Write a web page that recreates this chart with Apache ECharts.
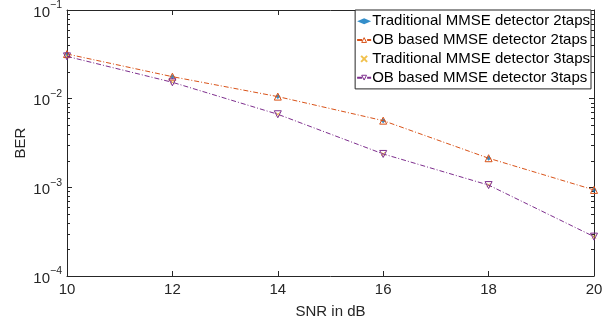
<!DOCTYPE html>
<html>
<head>
<meta charset="utf-8">
<script src="https://cdn.jsdelivr.net/npm/echarts@6/dist/echarts.min.js"></script>
<style>
html,body{margin:0;padding:0;background:#fff;}
#c{width:615px;height:326px;}
</style>
</head>
<body>
<div id="c"></div>
<script>
const snr = [10, 12, 14, 16, 18, 20];
const trad2 = [0.0319, 0.0177, 0.01055, 0.00565, 0.00213, 0.000935];
const ob2   = [0.0319, 0.0177, 0.01055, 0.00565, 0.00213, 0.000935];
const trad3 = [0.0300, 0.0153, 0.00667, 0.00238, 0.00106, 0.000278];
const ob3   = [0.0300, 0.0153, 0.00667, 0.00238, 0.00106, 0.000278];
const names = ['Traditional MMSE detector 2taps','OB based MMSE detector 2taps','Traditional MMSE detector 3taps','OB based MMSE detector 3taps'];
const xTicks = [10, 12, 14, 16, 18, 20];
const yDecades = [1e-4, 1e-3, 1e-2, 1e-1];

const minorVals = [];
for (let i = 0; i < yDecades.length - 1; i++) {
  for (let m = 2; m <= 9; m++) minorVals.push(yDecades[i] * m);
}
const pair = arr => snr.map((x, i) => [x, arr[i]]);
const FONT = 'Liberation Sans, Arial, Helvetica, sans-serif';
const AX = '#262626';
const C_BLUE = '#0072BD', C_ORANGE = '#D95319', C_YELLOW = '#EDB120', C_PURPLE = '#7E2F8E';

const chart = echarts.init(document.getElementById('c'), null, {renderer: 'canvas'});
const dashDot = [5, 2, 1, 2];

chart.setOption({
  animation: false,
  backgroundColor: '#fff',
  textStyle: {fontFamily: FONT},
  grid: {left: 67, right: 21, top: 10, bottom: 50, containLabel: false},
  legend: {
    data: [
      {name: names[0]},
      {name: names[1], itemStyle: {color: '#fff', borderColor: C_ORANGE, borderWidth: 1}},
      {name: names[2]},
      {name: names[3], itemStyle: {color: '#fff', borderColor: C_PURPLE, borderWidth: 1}}
    ],
    orient: 'vertical',
    right: 24, top: 10,
    backgroundColor: '#fff',
    borderColor: AX, borderWidth: 1, borderRadius: 0,
    padding: [3, 1, 3, 1],
    itemWidth: 14, itemHeight: 6, itemGap: 2.3,
    textStyle: {fontFamily: FONT, fontSize: 15, lineHeight: 16.5, color: '#000', padding: [0, 0, 0, -4]}
  },
  xAxis: [{
    type: 'value', min: 10, max: 20, interval: 2,
    name: 'SNR in dB', nameLocation: 'middle', nameGap: 28,
    nameTextStyle: {fontFamily: FONT, fontSize: 15, color: AX},
    axisLine: {show: true, lineStyle: {color: AX, width: 1}},
    axisTick: {show: true, inside: true, length: 5, lineStyle: {color: AX}},
    axisLabel: {fontFamily: FONT, fontSize: 15, color: AX, margin: 6},
    splitLine: {show: false}
  }, {
    type: 'value', min: 10, max: 20, interval: 2, position: 'top',
    axisLine: {show: true, lineStyle: {color: AX, width: 1}},
    axisTick: {show: true, inside: true, length: 5, lineStyle: {color: AX}},
    axisLabel: {show: false}, splitLine: {show: false}
  }],
  yAxis: [{
    type: 'log', logBase: 10, min: 1e-4, max: 1e-1, interval: 1,
    name: 'BER', nameLocation: 'middle', nameGap: 39, nameRotate: 90, nameMoveOverlap: false,
    nameTextStyle: {fontFamily: FONT, fontSize: 15, color: AX},
    axisLine: {show: true, lineStyle: {color: AX, width: 1}},
    axisTick: {show: true, inside: true, length: 5, lineStyle: {color: AX}},
    axisLabel: {
      fontFamily: FONT, color: AX, margin: 5,
      formatter: v => '{b|10}{s|' + String(Math.round(Math.log10(v))).replace('-', '\u2212') + '}',
      rich: {
        b: {fontFamily: FONT, fontSize: 15, color: AX, verticalAlign: 'bottom', padding: [5, 0, 0, 0]},
        s: {fontFamily: FONT, fontSize: 10.5, color: AX, verticalAlign: 'top'}
      }
    },
    splitLine: {show: false}
  }, {
    type: 'log', logBase: 10, min: 1e-4, max: 1e-1, interval: 1, position: 'right',
    axisLine: {show: true, lineStyle: {color: AX, width: 1}},
    axisTick: {show: true, inside: true, length: 5, lineStyle: {color: AX}},
    axisLabel: {show: false}, splitLine: {show: false}
  }],
  series: [
    {
      name: names[0], type: 'scatter', data: pair(trad2),
      symbol: 'diamond', symbolSize: 5,
      itemStyle: {color: C_BLUE}, z: 3
    },
    {
      name: names[1], type: 'line', data: pair(ob2),
      symbol: 'triangle', symbolSize: 7, showAllSymbol: true,
      lineStyle: {color: C_ORANGE, width: 1, type: dashDot},
      itemStyle: {color: 'rgba(0,0,0,0)', borderColor: C_ORANGE, borderWidth: 1},
      z: 4
    },
    {
      name: names[2], type: 'scatter', data: pair(trad3),
      symbol: 'path://M0,0L10,10M10,0L0,10', symbolSize: 4,
      itemStyle: {color: 'rgba(0,0,0,0)', borderColor: C_YELLOW, borderWidth: 1},
      z: 5
    },
    {
      name: names[3], type: 'line', data: pair(ob3),
      symbol: 'triangle', symbolRotate: 180, symbolSize: 7, showAllSymbol: true,
      lineStyle: {color: C_PURPLE, width: 1, type: dashDot},
      itemStyle: {color: 'rgba(0,0,0,0)', borderColor: C_PURPLE, borderWidth: 1},
      z: 6
    },
    {
      name: 'minorTicks', type: 'custom', silent: true, z: 2,
      data: minorVals.map(v => [10, v]),
      encode: {x: 0, y: 1},
      renderItem: (params, api) => {
        const v = api.value(1);
        const pl = api.coord([10, v]);
        const pr = api.coord([20, v]);
        const y = Math.round(pl[1]) + 0.5;
        return {
          type: 'group',
          children: [
            {type: 'line', shape: {x1: pl[0], y1: y, x2: pl[0] + 3, y2: y}, style: {stroke: AX, lineWidth: 1}},
            {type: 'line', shape: {x1: pr[0], y1: y, x2: pr[0] - 3, y2: y}, style: {stroke: AX, lineWidth: 1}}
          ]
        };
      }
    }
  ]
});
</script>
</body>
</html>
